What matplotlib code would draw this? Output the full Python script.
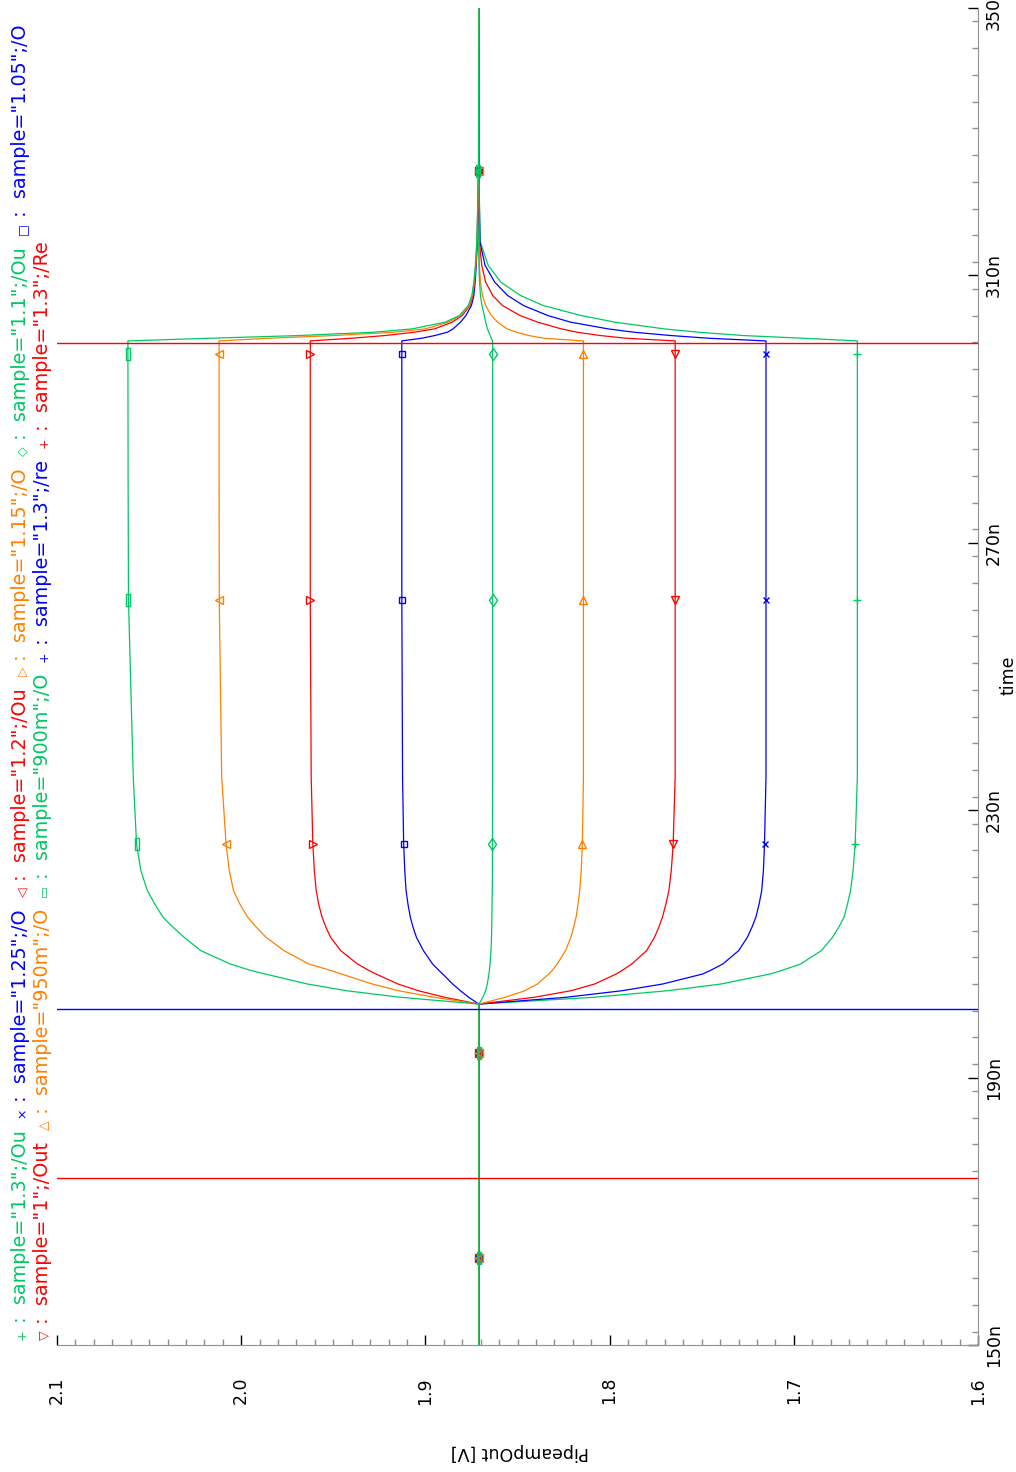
import matplotlib
matplotlib.use('Agg')
import matplotlib.pyplot as plt
from matplotlib.ticker import MultipleLocator, FixedLocator

plt.rcParams['font.family'] = ['DejaVu Sans']

# time axis (ns), shared by the nine PipeampOut traces
time_ns = [150, 163, 175, 193.7, 201, 202, 203, 204, 205.5, 206, 207, 209, 211, 212.5, 214,
           216, 218, 221, 224.9, 235, 261.4, 280, 298.2, 300.2, 300.6, 301, 301.5, 302, 303,
           304, 305.5, 307, 309, 311.5, 315, 325.6, 350]

v_900m = [1.871, 1.871, 1.871, 1.871, 1.871, 1.913, 1.943, 1.964, 1.987, 1.9945, 2.006, 2.022,
          2.031, 2.037, 2.0425, 2.047, 2.051, 2.0545, 2.0568, 2.0586, 2.0612, 2.0614, 2.0615,
          2.0615, 2.017, 1.969, 1.9282, 1.9072, 1.8893, 1.8815, 1.8767, 1.8748, 1.8737, 1.8729,
          1.8721, 1.8712, 1.871]
v_950m = [1.871, 1.871, 1.871, 1.871, 1.871, 1.895, 1.9147, 1.9288, 1.9457, 1.951, 1.9634,
          1.9768, 1.9866, 1.9918, 1.9965, 2.0008, 2.0042, 2.0065, 2.0082, 2.0106, 2.0119, 2.012,
          2.012, 2.012, 1.985, 1.95, 1.917, 1.900, 1.8875, 1.8808, 1.8762, 1.8745, 1.8735,
          1.8727, 1.872, 1.8711, 1.871]
v_1 = [1.871, 1.871, 1.871, 1.871, 1.871, 1.8893, 1.9039, 1.9149, 1.9268, 1.9305, 1.9369,
       1.946, 1.9515, 1.954, 1.9561, 1.958, 1.9593, 1.9603, 1.9611, 1.962, 1.9625, 1.9625,
       1.9625, 1.9625, 1.94, 1.922, 1.906, 1.895, 1.8855, 1.8800, 1.8758, 1.8742, 1.8733,
       1.8726, 1.8719, 1.8711, 1.871]
v_105 = [1.871, 1.871, 1.871, 1.871, 1.871, 1.8764, 1.881, 1.8852, 1.8906, 1.8925, 1.8961,
         1.9011, 1.9049, 1.9067, 1.9082, 1.9095, 1.9105, 1.9112, 1.9118, 1.9124, 1.9128, 1.9128,
         1.9128, 1.9128, 1.902, 1.895, 1.888, 1.885, 1.881, 1.878, 1.875, 1.8737, 1.873,
         1.8724, 1.8718, 1.8711, 1.871]
v_11 = [1.871, 1.871, 1.871, 1.871, 1.871, 1.8688, 1.8673, 1.8664, 1.8655, 1.8653, 1.8649,
        1.8644, 1.8641, 1.864, 1.8639, 1.8638, 1.8637, 1.8636, 1.8636, 1.8635, 1.8635, 1.8635,
        1.8635, 1.8635, 1.8642, 1.8648, 1.8656, 1.8663, 1.8673, 1.868, 1.8693, 1.8701, 1.8706,
        1.8709, 1.871, 1.871, 1.871]
v_115 = [1.871, 1.871, 1.871, 1.871, 1.871, 1.8568, 1.846, 1.8392, 1.833, 1.8313, 1.8284,
         1.8239, 1.821, 1.8195, 1.8182, 1.8171, 1.8162, 1.8154, 1.8148, 1.8142, 1.8142, 1.8142,
         1.8142, 1.8142, 1.8358, 1.8437, 1.8506, 1.8557, 1.8608, 1.8642, 1.8673, 1.869, 1.8701,
         1.8707, 1.871, 1.871, 1.871]
v_12 = [1.871, 1.871, 1.871, 1.871, 1.871, 1.8412, 1.8209, 1.8081, 1.7964, 1.7934, 1.7879,
        1.7799, 1.7756, 1.7733, 1.7713, 1.7694, 1.7678, 1.7665, 1.7655, 1.7644, 1.7644, 1.7644,
        1.7644, 1.7644, 1.791, 1.8049, 1.8177, 1.8262, 1.839, 1.8486, 1.8582, 1.8635, 1.8673,
        1.8694, 1.8707, 1.871, 1.871]
v_125 = [1.871, 1.871, 1.871, 1.871, 1.871, 1.8242, 1.7931, 1.7712, 1.7494, 1.7455, 1.7385,
         1.7299, 1.7252, 1.7227, 1.7206, 1.7188, 1.7174, 1.7165, 1.7159, 1.7151, 1.7151, 1.7151,
         1.7151, 1.7151, 1.7463, 1.7666, 1.7868, 1.8008, 1.8211, 1.8336, 1.8468, 1.8554, 1.8624,
         1.8676, 1.8704, 1.871, 1.871]
v_13 = [1.871, 1.871, 1.871, 1.871, 1.871, 1.8094, 1.7683, 1.7395, 1.7128, 1.7068, 1.6963,
        1.6850, 1.6789, 1.6756, 1.6727, 1.6708, 1.6692, 1.6678, 1.6667, 1.6655, 1.6655, 1.6655,
        1.6655, 1.6655, 1.695, 1.7272, 1.7518, 1.7703, 1.797, 1.8155, 1.8361, 1.8484, 1.8591,
        1.8659, 1.8702, 1.871, 1.871]

# digital control signals (only their edges fall inside the window)
re_time = [150, 200.2, 200.2, 350]
re_v = [0.0, 0.0, 3.3, 3.3]
Re_time = [150, 174.97, 174.97, 299.85, 299.85, 350]
Re_v = [0.0, 0.0, 3.3, 3.3, 0.0, 0.0]

# samples that carry a marker: 163, 193.7, 224.9, 261.4, 298.2, 325.6 ns
mark_idx = [1, 3, 18, 20, 22, 35]

GREEN = '#00c864'
BLUE = '#0000ff'
RED = '#ff0000'
ORANGE = '#ff8000'

thin_rect = [(-0.3, -1), (0.3, -1), (0.3, 1), (-0.3, 1), (-0.3, -1)]

traces = [
    (v_13, GREEN, '+', 6),
    (v_125, BLUE, 'x', 5),
    (v_12, RED, 'v', 6),
    (v_115, ORANGE, '^', 6),
    (v_11, GREEN, 'd', 6),
    (v_105, BLUE, 's', 5),
    (v_1, RED, '>', 6),
    (v_950m, ORANGE, '<', 6),
    (v_900m, GREEN, thin_rect, 8),
]

W, H = 1016, 1472
fig = plt.figure(figsize=(W / 100, H / 100), dpi=100)
ax = fig.add_axes([57 / W, 127 / H, (978 - 57) / W, (1464 - 127) / H])

for vals, col, mk, ms in traces:
    ax.plot(vals, time_ns, color=col, lw=0.9, marker=mk, markevery=mark_idx,
            ms=ms, mfc='none', mec=col, mew=1)
ax.plot(re_v, re_time, color=BLUE, lw=1)
ax.plot(Re_v, Re_time, color=RED, lw=1)

ax.set_xlim(2.1, 1.6)
ax.set_ylim(150, 350)

for s in ['top', 'left']:
    ax.spines[s].set_visible(False)
for s in ['bottom', 'right']:
    ax.spines[s].set_color('#909090')

ax.yaxis.tick_right()
ax.xaxis.set_major_locator(FixedLocator([2.1, 2.0, 1.9, 1.8, 1.7, 1.6]))
ax.xaxis.set_minor_locator(MultipleLocator(0.01))
ax.yaxis.set_major_locator(FixedLocator([150, 190, 230, 270, 310, 350]))
ax.yaxis.set_minor_locator(MultipleLocator(4))
ax.set_xticklabels(['2.1', '2.0', '1.9', '1.8', '1.7', '1.6'], rotation=90)
ax.set_yticklabels(['150n', '190n', '230n', '270n', '310n', '350n'], rotation=90, va='center')
ax.tick_params(axis='x', which='major', direction='in', length=7, width=1, color='black',
               labelsize=12.5, pad=23)
ax.tick_params(axis='y', which='major', direction='in', length=7, width=1, color='black',
               labelsize=12.5, pad=5)
ax.tick_params(which='minor', direction='in', length=4, width=1, color='#909090')

fig.text(1008 / W, 1 - 675 / H, 'time', rotation=90, ha='center', va='center', fontsize=12.5)
fig.text(520 / W, 1 - 1452 / H, 'PipeampOut [V]', rotation=180, ha='center', va='center',
         fontsize=12.5)

# legend rows, written bottom-to-top like the rotated plot
row1 = [('+', GREEN, 'sample="1.3";/Ou'), ('\u00d7', BLUE, 'sample="1.25";/O'),
        ('\u25c1', RED, 'sample="1.2";/Ou'), ('\u25b7', ORANGE, 'sample="1.15";/O'),
        ('\u25c7', GREEN, 'sample="1.1";/Ou'), ('\u25a1', BLUE, 'sample="1.05";/O')]
row2 = [('\u25bd', RED, 'sample="1";/Out'), ('\u25b3', ORANGE, 'sample="950m";/O'),
        ('\u25ad', GREEN, 'sample="900m";/O'), ('+', BLUE, 'sample="1.3";/re'),
        ('+', RED, 'sample="1.3";/Re')]

renderer = fig.canvas.get_renderer()


def legend_row(entries, x_px, y_px):
    y = y_px
    for glyph, col, label in entries:
        for s, fs in ((glyph, 9), (' :  ' + label + '  ', 13.8)):
            t = fig.text(x_px / W, 1 - y / H, s, color=col, fontsize=fs, rotation=90,
                         rotation_mode='anchor', ha='left', va='baseline')
            y -= t.get_window_extent(renderer).height


legend_row(row1, 26, 1340)
legend_row(row2, 48, 1340)

fig.savefig('out.png', dpi=100)
